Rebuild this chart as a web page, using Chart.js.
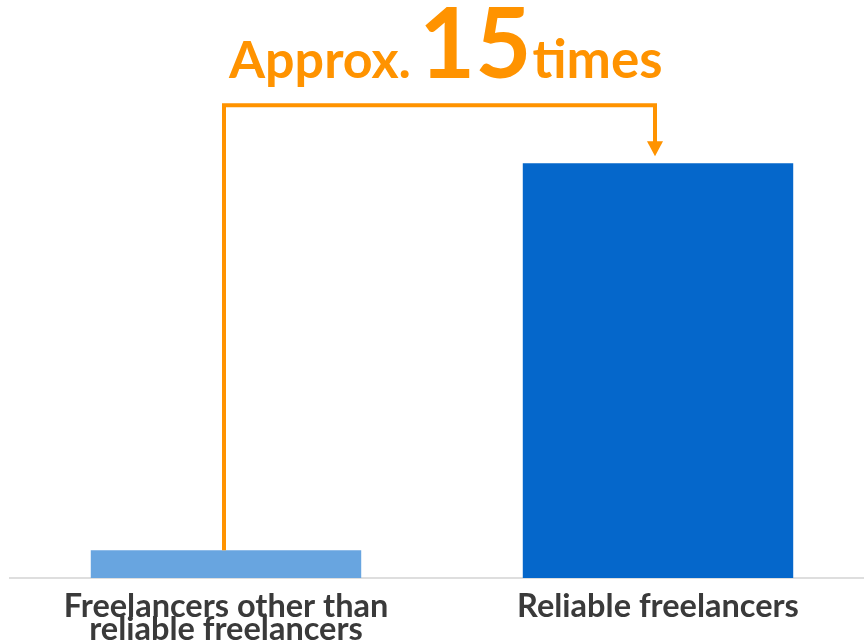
<!DOCTYPE html>
<html><head><meta charset="utf-8">
<script src="https://cdn.jsdelivr.net/npm/chart.js@4"></script>
<style>html,body{margin:0;padding:0;background:#fff;overflow:hidden;width:864px;height:641px}
#wrap{width:874px;height:641px;}</style></head>
<body><div id="wrap"><canvas id="c" width="874" height="641"></canvas></div>
<script>
const categories = [["Freelancers other than","reliable freelancers"],"Reliable freelancers"];
const values = [1, 15];
const barColors = ["#68a5e0","#0567cb"];
const calloutPrefix = "Approx.";
const calloutNumber = "15";
const calloutSuffix = "times";
const bracketLevel = 17.1;
const arrowTipValue = 15.25;
const textBaselineValue = 18.07;
const yMax = 20;

const ORANGE = "#ff9300";

const bracketPlugin = {
  id: 'bracket',
  afterDraw(chart) {
    const ctx = chart.ctx, xs = chart.scales.x, ys = chart.scales.y;
    const x0 = xs.getPixelForValue(0) - 2, x1 = xs.getPixelForValue(1) - 3;
    const yBar = ys.getPixelForValue(values[0]);
    const yTop = ys.getPixelForValue(bracketLevel);
    const yTip = ys.getPixelForValue(arrowTipValue);
    ctx.save();
    ctx.strokeStyle = ORANGE; ctx.fillStyle = ORANGE;
    ctx.lineWidth = 4; ctx.lineJoin = 'miter'; ctx.lineCap = 'butt';
    ctx.beginPath();
    ctx.moveTo(x0, yBar); ctx.lineTo(x0, yTop); ctx.lineTo(x1, yTop); ctx.lineTo(x1, yTip - 12);
    ctx.stroke();
    ctx.beginPath();
    ctx.moveTo(x1 - 8, yTip - 15); ctx.lineTo(x1 + 8, yTip - 15); ctx.lineTo(x1, yTip);
    ctx.closePath(); ctx.fill();
    // callout text
    const base = ys.getPixelForValue(textBaselineValue);
    let tx = x0 + 5;
    ctx.textBaseline = 'alphabetic'; ctx.textAlign = 'left';
    ctx.font = 'bold 52px Lato';
    ctx.fillText(calloutPrefix, tx, base);
    tx += ctx.measureText(calloutPrefix).width + 8;
    ctx.font = 'bold 97px Lato';
    const m = ctx.measureText(calloutNumber);
    ctx.fillText(calloutNumber, tx, base);
    tx += m.width + 1;
    ctx.font = 'bold 53px Lato';
    ctx.fillText(calloutSuffix, tx, base);
    ctx.restore();
  }
};

new Chart(document.getElementById('c'), {
  type: 'bar',
  data: {
    labels: categories,
    datasets: [{ data: values, backgroundColor: barColors, borderWidth: 0,
      barPercentage: 0.626, categoryPercentage: 1 }]
  },
  options: {
    responsive: false, animation: false, devicePixelRatio: 1,
    layout: { padding: { top: 25, left: 10, right: 0, bottom: 0 } },
    plugins: { legend: { display: false }, tooltip: { enabled: false } },
    scales: {
      y: { display: false, min: 0, max: yMax },
      x: {
        grid: { display: false },
        border: { display: true, color: '#dedede', width: 2 },
        ticks: { color: '#3a3a3a', font: { family: 'Lato', size: 32.5, weight: 'bold', lineHeight: 0.7 },
          padding: 9, maxRotation: 0, autoSkip: false },
        afterFit(scale) { scale.height = 63; }
      }
    }
  },
  plugins: [bracketPlugin]
});
</script></body></html>
